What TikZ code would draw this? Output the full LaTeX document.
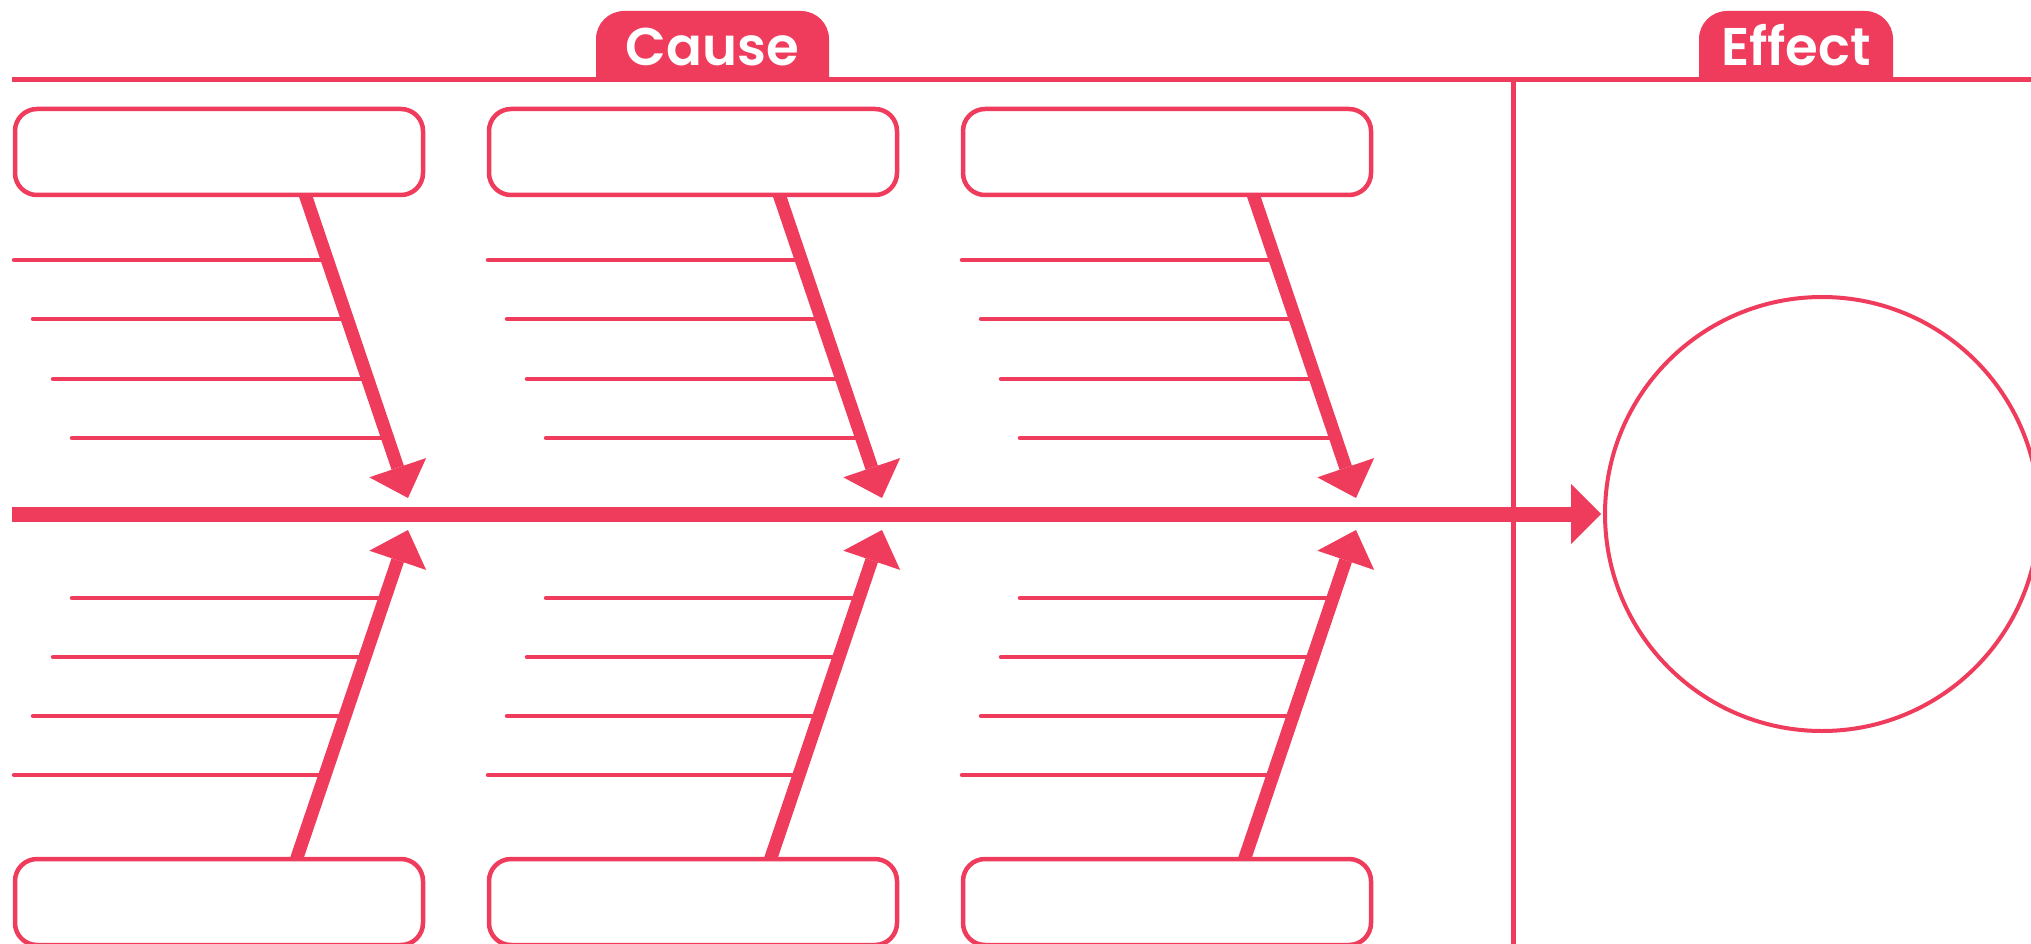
\documentclass[tikz,border=0pt]{standalone}
\usepackage{fontspec}
\newfontfamily\tabfont{Poppins SemiBold}
\usetikzlibrary{arrows.meta,backgrounds}
\definecolor{fb}{HTML}{EF3C5C}
\begin{document}
\begin{tikzpicture}[x=1pt,y=-1pt,
  causebox/.style={draw=fb, line width=4.5pt, fill=white, rounded corners=22pt,
    minimum width=408pt, minimum height=86pt, inner sep=0pt},
  tablabel/.style={text=white, inner sep=0pt, anchor=base,
    font=\tabfont\fontsize{53}{53}\selectfont},
  bone/.style={draw=fb, line width=13pt, -{Triangle[length=32pt,width=60pt,line width=0pt]}},
  rib/.style={draw=fb, line width=4.5pt, line cap=round},
  spinestyle/.style={draw=fb, line width=15pt, -{Triangle[length=30pt,width=60pt,line width=0pt]}},
  thinline/.style={draw=fb, line width=5pt}
]
\useasboundingbox (0,0) rectangle (2031,944);
% tab shapes (rounded top corners only)
\fill[fb] (596,82) -- (596,39) arc[start angle=180, end angle=270, radius=28]
  -- (801,11) arc[start angle=270, end angle=360, radius=28] -- (829,82) -- cycle;
\fill[fb] (1699,82) -- (1699,39) arc[start angle=180, end angle=270, radius=28]
  -- (1865,11) arc[start angle=270, end angle=360, radius=28] -- (1893,82) -- cycle;
% tab labels
\node[tablabel] (cause) at (712.5,66) {Cause};
\node[tablabel] (effectlbl) at (1796,66) {Effect};
% effect circle
\node[circle, draw=fb, line width=4pt, minimum size=434pt, inner sep=0pt] (effect) at (1822,514) {};
% cause boxes
\foreach \k in {0,1,2} {
  \pgfmathsetmacro\dx{474*\k}
  \node[causebox] (top\k) at (219+\dx,152) {};
  \node[causebox] (bot\k) at (219+\dx,902) {};
}
\begin{scope}[on background layer]
  \coordinate (tl) at (12,80);
  \coordinate (tr) at (2031,80);
  \draw[thinline] (tl) -- (tr);
  \coordinate (vt) at (1513,80);
  \coordinate (vb) at (1513,944);
  \draw[thinline] (vt) -- (vb);
  \coordinate (sp) at (12,514);
  \coordinate (spt) at (1601,514);
  \draw[spinestyle] (sp) -- (spt);
  \foreach \k in {0,1,2} {
    \pgfmathsetmacro\dx{474*\k}
    % upper bone
    \coordinate (us\k) at (301.9+\dx,185);
    \coordinate (ut\k) at (408+\dx,498);
    \draw[bone] (us\k) -- (ut\k);
    \foreach \y/\xs in {260/14,319/33,379/53,438/72} {
      \pgfmathsetmacro\xe{408-(498-\y)*0.3389+\dx}
      \coordinate (ha\k-\y) at (\xs+\dx,\y);
      \coordinate (hb\k-\y) at (\xe,\y);
      \draw[rib] (ha\k-\y) -- (hb\k-\y);
    }
    % lower bone
    \coordinate (ls\k) at (292.8+\dx,870);
    \coordinate (lt\k) at (408+\dx,530);
    \draw[bone] (ls\k) -- (lt\k);
    \foreach \y/\xs in {598/72,657/53,716/33,775/14} {
      \pgfmathsetmacro\xe{408-(\y-530)*0.3389+\dx}
      \coordinate (la\k-\y) at (\xs+\dx,\y);
      \coordinate (lb\k-\y) at (\xe,\y);
      \draw[rib] (la\k-\y) -- (lb\k-\y);
    }
  }
\end{scope}
\end{tikzpicture}
\end{document}
